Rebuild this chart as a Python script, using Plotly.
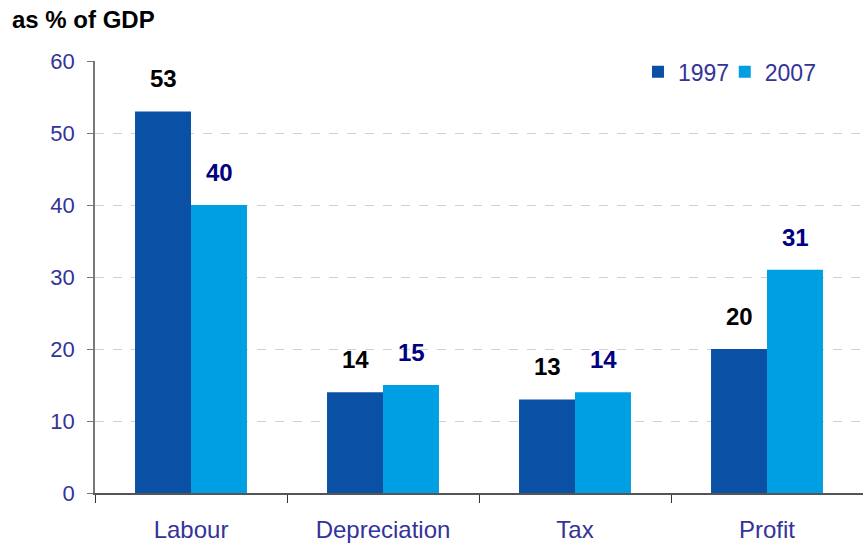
import plotly.graph_objects as go

categories = ["Labour", "Depreciation", "Tax", "Profit"]
values_1997 = [53, 14, 13, 20]
values_2007 = [40, 15, 14, 31]
y_ticks = [0, 10, 20, 30, 40, 50, 60]

C1997 = "#0A50A5"
C2007 = "#009FE3"
AXIS_TEXT = "#333399"
FONT = "Liberation Sans, Arial, sans-serif"

fig = go.Figure()
fig.add_trace(go.Bar(name="1997", x=categories, y=values_1997, legend="legend",
                     marker=dict(color=C1997, line=dict(width=0))))
fig.add_trace(go.Bar(name="2007", x=categories, y=values_2007, legend="legend2",
                     marker=dict(color=C2007, line=dict(width=0))))

# value labels above each bar
for vals, shift, col in [(values_1997, -28, "#000000"), (values_2007, 28, "#000080")]:
    for cat, v in zip(categories, vals):
        fig.add_annotation(x=cat, y=v, xshift=shift, yshift=17, text=f"<b>{v}</b>",
                           showarrow=False, yanchor="bottom",
                           font=dict(family=FONT, size=24, color=col))

legend_style = dict(orientation="h", y=1.025, xanchor="left", yanchor="top",
                    bgcolor="rgba(0,0,0,0)", font=dict(family=FONT, size=23, color=AXIS_TEXT),
                    itemwidth=30)

fig.update_layout(
    width=863, height=545,
    margin=dict(l=95, r=0, t=61, b=52),
    paper_bgcolor="white", plot_bgcolor="white",
    barmode="group", bargap=0.417, bargroupgap=0,
    font=dict(family=FONT, size=21, color=AXIS_TEXT),
    title=dict(text="<b>as % of GDP</b>", x=12/863, xref="container", xanchor="left",
               y=1 - 20/545, yref="container", yanchor="middle",
               font=dict(family=FONT, size=24, color="#000000")),
    legend=dict(x=0.707, **legend_style),
    legend2=dict(x=0.820, **legend_style),
    showlegend=True,
)
fig.update_xaxes(showline=True, linecolor="#555555", linewidth=1.5,
                 ticks="outside", tickson="boundaries", ticklen=8, tickcolor="#333333",
                 tickfont=dict(family=FONT, size=24, color=AXIS_TEXT), ticklabelstandoff=14,
                 showgrid=False)
fig.update_yaxes(range=[0, 60], tickvals=y_ticks, showline=True, linecolor="#777777", linewidth=1.5,
                 ticks="outside", ticklen=6, tickcolor="#777777",
                 tickfont=dict(family=FONT, size=22, color=AXIS_TEXT), ticklabelstandoff=8,
                 showgrid=True, gridcolor="#D0D0D0", griddash="dash", gridwidth=1,
                 zeroline=False)

fig.write_html("out.html")
